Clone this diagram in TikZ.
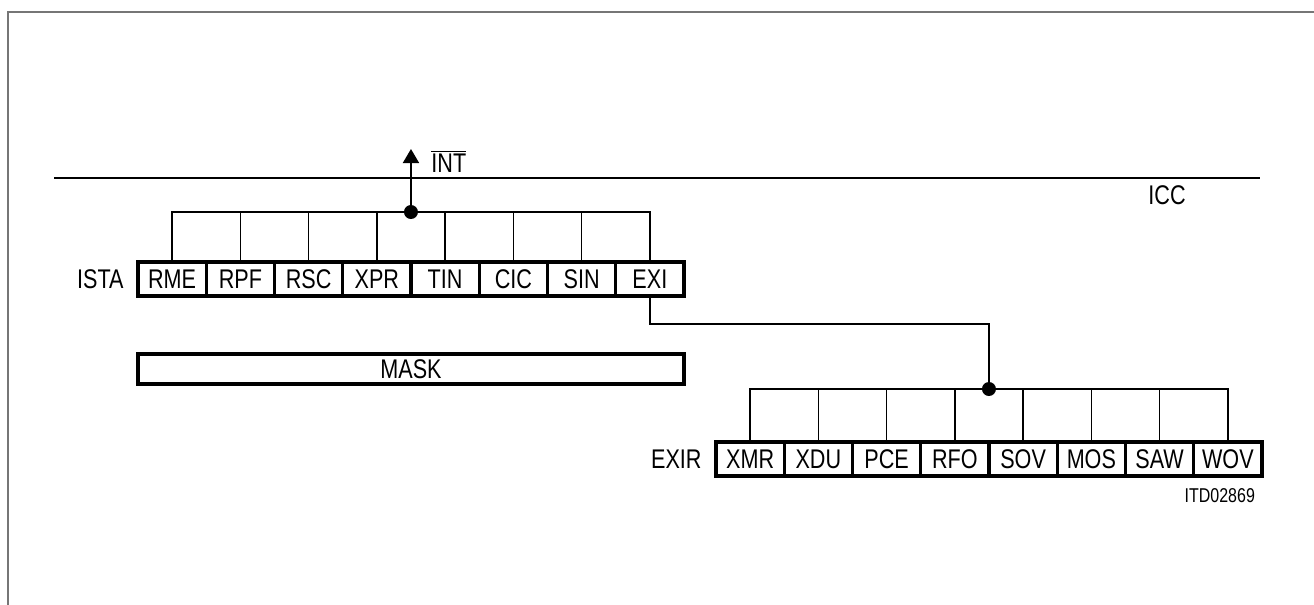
\documentclass[tikz,border=0pt]{standalone}
\usepackage{fontspec}
\setmainfont{Liberation Sans}[FakeStretch=0.8]
\usepackage{tikz}
\usetikzlibrary{arrows.meta,positioning,calc,fit}
\definecolor{moldura}{HTML}{767676}

\begin{document}
\begin{tikzpicture}[x=0.5pt, y=-0.5pt,
  >={Triangle[length=7pt,width=8pt]},
  cell/.style={draw, line width=1.6pt, outer sep=0pt, inner sep=0pt,
               minimum width=34.125pt, minimum height=17pt,
               font=\fontsize{13.5}{15}\selectfont},
  reg/.style={draw, line width=2.4pt, inner sep=0pt},
  lbl/.style={font=\fontsize{13.5}{15}\selectfont, inner sep=2pt},
  wire/.style={line width=0.8pt},
  dot/.style={circle, fill, inner sep=0pt, minimum size=7pt}]

  \useasboundingbox (0,0) rectangle (1314,605);
  \draw[moldura, line width=1.1pt] (8,605) -- (8,12) -- (1314,12);
  \draw[line width=1pt] (54,178) -- (1260,178);
  \node[lbl] (icc) at (1167,195) {ICC};

  % ISTA register
  \node[cell] (rme) at (172.1,279) {RME};
  \node[cell, right=0pt of rme] (rpf) {RPF};
  \node[cell, right=0pt of rpf] (rsc) {RSC};
  \node[cell, right=0pt of rsc] (xpr) {XPR};
  \node[cell, right=0pt of xpr] (tin) {TIN};
  \node[cell, right=0pt of tin] (cic) {CIC};
  \node[cell, right=0pt of cic] (sin) {SIN};
  \node[cell, right=0pt of sin] (exi) {EXI};
  \node[reg, fit=(rme)(exi)] (ista) {};
  \node[lbl, left=5pt of rme] (istalbl) {ISTA};

  \coordinate (busa) at (0,212);
  \node[dot] (dota) at ($(rme.north |- busa)!0.5!(exi.north |- busa)$) {};
  \draw[wire] (rme.north) |- (dota) -| (exi.north);
  \draw[wire] (rpf.north) -- (rpf.north |- busa) (rsc.north) -- (rsc.north |- busa)
              (xpr.north) -- (xpr.north |- busa) (tin.north) -- (tin.north |- busa)
              (cic.north) -- (cic.north |- busa) (sin.north) -- (sin.north |- busa);
  \coordinate (inttip) at (dota |- 0,149);
  \draw[wire, line width=0.9pt, ->] (dota) -- (inttip);
  \node[lbl, anchor=west] (int) at (427,161) {$\overline{\mbox{INT}}$};

  % MASK
  \node[cell, line width=2.4pt, minimum width=273pt, minimum height=15pt, anchor=west]
    (mask) at (rme.west |- 0,369) {MASK};

  % EXIR register
  \node[cell] (xmr) at (750.1,459) {XMR};
  \node[cell, right=0pt of xmr] (xdu) {XDU};
  \node[cell, right=0pt of xdu] (pce) {PCE};
  \node[cell, right=0pt of pce] (rfo) {RFO};
  \node[cell, right=0pt of rfo] (sov) {SOV};
  \node[cell, right=0pt of sov] (mos) {MOS};
  \node[cell, right=0pt of mos] (saw) {SAW};
  \node[cell, right=0pt of saw] (wov) {WOV};
  \node[reg, fit=(xmr)(wov)] (exir) {};
  \node[lbl, left=5pt of xmr] (exirlbl) {EXIR};

  \coordinate (busb) at (0,389);
  \node[dot] (dotb) at ($(xmr.north |- busb)!0.5!(wov.north |- busb)$) {};
  \draw[wire] (xmr.north) |- (dotb) -| (wov.north);
  \draw[wire] (xdu.north) -- (xdu.north |- busb) (pce.north) -- (pce.north |- busb)
              (rfo.north) -- (rfo.north |- busb) (sov.north) -- (sov.north |- busb)
              (mos.north) -- (mos.north |- busb) (saw.north) -- (saw.north |- busb);
  \draw[wire] (exi.south) -- ++(0,28) -| (dotb);

  \node[font=\fontsize{10}{12}\selectfont, anchor=east] (itd) at (1262,496) {ITD02869};
\end{tikzpicture}
\end{document}
